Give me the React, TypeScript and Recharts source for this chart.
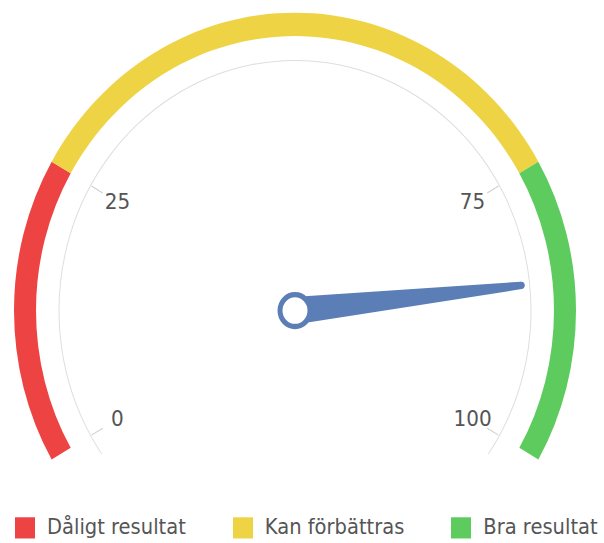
import { PieChart, Pie, Cell, Legend } from "recharts";

// bands of the gauge
const bandNames = ["Dåligt resultat", "Kan förbättras", "Bra resultat"];
const bandValues = [25, 50, 25];
const bandColors = ["#ee4343", "#eed445", "#5ecb5e"];
// labels at the band edges
const tickLabels = ["0", "25", "75", "100"];
// needle reading (0–100)
const gaugeValue = 85;
const gaugeMax = 100;

const bands = bandNames.map((name, i) => ({ name, value: bandValues[i] }));
const needle = [{ value: gaugeValue }, { value: gaugeMax - gaugeValue }];
const track = [{ value: 1 }];

const CX = 295;
const CY = 293;
const STRETCH = 1.06;
const NEEDLE_COLOR = "#5b7eb6";
const FONT = "'DejaVu Sans', sans-serif";

const RAD = Math.PI / 180;
const pt = (cx: number, cy: number, r: number, deg: number) => ({
  x: cx + r * Math.cos(-deg * RAD),
  y: cy + r * Math.sin(-deg * RAD),
});

function Tick({ cx, cy, angle, text }: { cx: number; cy: number; angle: number; text: string }) {
  const a = pt(cx, cy, 235, angle);
  const b = pt(cx, cy, 222, angle);
  const l = pt(cx, cy, 205, angle);
  return (
    <g>
      <line x1={a.x} y1={a.y} x2={b.x} y2={b.y} stroke="#cfcfcf" strokeWidth={1} />
      <text
        x={l.x}
        y={l.y}
        textAnchor="middle"
        dominantBaseline="central"
        fill="#555"
        fontSize={20}
        fontFamily={FONT}
      >
        {text}
      </text>
    </g>
  );
}

// eslint-disable-next-line @typescript-eslint/no-explicit-any
function bandLabel(props: any) {
  const { cx, cy, startAngle, endAngle, index } = props;
  return (
    <g key={`tick-${index}`}>
      <Tick cx={cx} cy={cy} angle={startAngle} text={tickLabels[index]} />
      {index === bands.length - 1 && (
        <Tick cx={cx} cy={cy} angle={endAngle} text={tickLabels[index + 1]} />
      )}
    </g>
  );
}

// eslint-disable-next-line @typescript-eslint/no-explicit-any
function needleLabel(props: any) {
  const { cx, cy, endAngle, outerRadius, index } = props;
  if (index !== 0) return <g key="n-empty" />;
  const a = endAngle * RAD;
  const nx = Math.sin(a);
  const ny = Math.cos(a);
  const tip = pt(cx, cy, outerRadius - 3.5, endAngle);
  const bw = 13;
  const tw = 3.5;
  const d = `M${cx + nx * bw},${cy + ny * bw} L${tip.x + nx * tw},${tip.y + ny * tw} L${tip.x - nx * tw},${tip.y - ny * tw} L${cx - nx * bw},${cy - ny * bw} Z`;
  return (
    <g key="needle">
      <path d={d} fill={NEEDLE_COLOR} />
      <circle cx={tip.x} cy={tip.y} r={tw} fill={NEEDLE_COLOR} />
      <circle cx={cx} cy={cy} r={15} fill="#fff" stroke={NEEDLE_COLOR} strokeWidth={5} />
    </g>
  );
}

function GaugeLegend() {
  return (
    <div
      style={{
        display: "flex",
        gap: 47,
        paddingLeft: 15,
        fontFamily: FONT,
        fontSize: 19.5,
        color: "#555",
        alignItems: "center",
      }}
    >
      {bands.map((b, i) => (
        <div key={b.name} style={{ display: "flex", alignItems: "center" }}>
          <span
            style={{
              display: "inline-block",
              width: 20,
              height: 20,
              background: bandColors[i],
              marginRight: 12,
            }}
          />
          <span style={{ whiteSpace: "nowrap" }}>{b.name}</span>
        </div>
      ))}
    </div>
  );
}

export default function App() {
  return (
    <div
      style={{
        position: "absolute",
        left: 0,
        top: 0,
        width: 604,
        height: 512,
        transform: `scale(1, ${STRETCH})`,
        transformOrigin: "0 0",
      }}
    >
      <PieChart width={604} height={512} margin={{ top: 0, right: 0, bottom: 0, left: 0 }}>
        <Pie
          data={track}
          dataKey="value"
          cx={CX}
          cy={CY}
          startAngle={215}
          endAngle={-35}
          innerRadius={235.5}
          outerRadius={236.5}
          stroke="none"
          fill="#dedede"
          legendType="none"
          isAnimationActive={false}
        />
        <Pie
          data={bands}
          dataKey="value"
          nameKey="name"
          cx={CX}
          cy={CY}
          startAngle={210}
          endAngle={-30}
          innerRadius={259}
          outerRadius={281}
          stroke="none"
          label={bandLabel}
          labelLine={false}
          isAnimationActive={false}
        >
          {bands.map((b, i) => (
            <Cell key={b.name} fill={bandColors[i]} />
          ))}
        </Pie>
        <Pie
          data={needle}
          dataKey="value"
          cx={CX}
          cy={CY}
          startAngle={210}
          endAngle={-30}
          innerRadius={0}
          outerRadius={231}
          stroke="none"
          fill="none"
          legendType="none"
          label={needleLabel}
          labelLine={false}
          isAnimationActive={false}
        />
        <Legend
          content={() => <GaugeLegend />}
          verticalAlign="bottom"
          wrapperStyle={{ bottom: 3, left: 0, width: 604 }}
        />
      </PieChart>
    </div>
  );
}
